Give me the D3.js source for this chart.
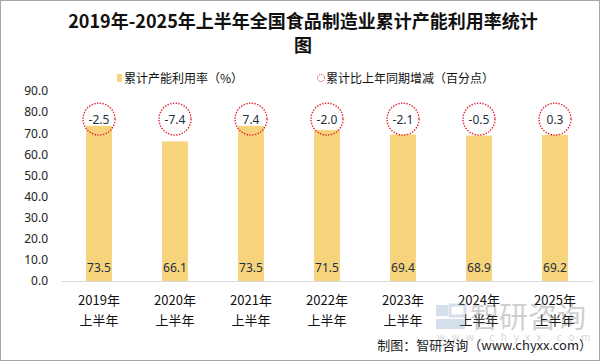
<!DOCTYPE html>
<html>
<head>
<meta charset="utf-8">
<script src="https://cdn.jsdelivr.net/npm/d3@7"></script>
<style>
  body { margin: 0; background: #fff; }
  text { font-family: "Noto Sans CJK SC", "Noto Sans", sans-serif; }
</style>
</head>
<body>
<div id="chart"></div>
<script>
// chart data
const years = ["2019年", "2020年", "2021年", "2022年", "2023年", "2024年", "2025年"];
const rate = [73.5, 66.1, 73.5, 71.5, 69.4, 68.9, 69.2];
const change = [-2.5, -7.4, 7.4, -2.0, -2.1, -0.5, 0.3];
const yTicks = [0, 10, 20, 30, 40, 50, 60, 70, 80, 90];
const circleLevel = 76.7; // where the change markers sit on the value axis

const W = 605, H = 363;
const svg = d3.select("#chart").append("svg")
  .attr("width", W).attr("height", H);

// outer frame
svg.append("rect")
  .attr("x", 0.5).attr("y", 0.5)
  .attr("width", 599).attr("height", 360)
  .attr("fill", "#fff").attr("stroke", "#a6a6a6");

// title
svg.append("text")
  .attr("x", 303).attr("y", 28)
  .attr("text-anchor", "middle")
  .style("font-size", "18px").style("font-weight", "bold").attr("fill", "#111")
  .text("2019年-2025年上半年全国食品制造业累计产能利用率统计");
svg.append("text")
  .attr("x", 303).attr("y", 52)
  .attr("text-anchor", "middle")
  .style("font-size", "18px").style("font-weight", "bold").attr("fill", "#111")
  .text("图");

// scales
const x = d3.scaleBand().domain(years).range([61, 593]).paddingInner(0.66).paddingOuter(0.33);
const y = d3.scaleLinear().domain([0, 90]).range([281, 91]);

// y axis labels
const yAxis = svg.append("g")
  .attr("transform", "translate(48,0)")
  .call(d3.axisLeft(y).tickValues(yTicks).tickSize(0).tickPadding(0).tickFormat(d3.format(".1f")));
yAxis.select(".domain").remove();
yAxis.selectAll("text").style("font-size", "12px").attr("fill", "#222")
  .style("font-family", '"Noto Sans", sans-serif');

// bars
svg.selectAll("rect.bar")
  .data(rate)
  .enter().append("rect")
  .attr("class", "bar")
  .attr("x", (d, i) => x(years[i]))
  .attr("width", x.bandwidth())
  .attr("y", d => y(d))
  .attr("height", d => y(0) - y(d))
  .attr("fill", "#f7d47c");

// x axis
const xAxis = svg.append("g")
  .attr("transform", `translate(0,${y(0)})`)
  .call(d3.axisBottom(x).tickSize(0).tickFormat(""));
xAxis.select(".domain").attr("stroke", "#d9d9d9");
years.forEach(yr => {
  const cx = x(yr) + x.bandwidth() / 2;
  svg.append("text").attr("x", cx).attr("y", 305).attr("text-anchor", "middle")
    .style("font-size", "13px").attr("fill", "#111").text(yr);
  svg.append("text").attr("x", cx).attr("y", 325).attr("text-anchor", "middle")
    .style("font-size", "13px").attr("fill", "#111").text("上半年");
});

// value labels at the bottom of the bars
svg.selectAll("text.val")
  .data(rate)
  .enter().append("text")
  .attr("class", "val")
  .attr("x", (d, i) => x(years[i]) + x.bandwidth() / 2)
  .attr("y", y(0) - 9)
  .attr("text-anchor", "middle")
  .style("font-size", "12px").style("font-family", '"Noto Sans", sans-serif')
  .attr("fill", "#1f3040")
  .text(d => d.toFixed(1));

// change markers
svg.selectAll("circle.chg")
  .data(change)
  .enter().append("circle")
  .attr("class", "chg")
  .attr("cx", (d, i) => x(years[i]) + x.bandwidth() / 2)
  .attr("cy", y(circleLevel))
  .attr("r", 16)
  .attr("fill", "none")
  .attr("stroke", "#e0202e")
  .attr("stroke-width", 1.4)
  .attr("stroke-dasharray", "1.4,1.4");
svg.selectAll("text.chg")
  .data(change)
  .enter().append("text")
  .attr("class", "chg")
  .attr("x", (d, i) => x(years[i]) + x.bandwidth() / 2)
  .attr("y", y(circleLevel) + 4.5)
  .attr("text-anchor", "middle")
  .style("font-size", "12px").style("font-family", '"Noto Sans", sans-serif')
  .attr("fill", "#1f3040")
  .text(d => d.toFixed(1));

// legend
const legend = svg.append("g");
legend.append("rect").attr("x", 117).attr("y", 74).attr("width", 5).attr("height", 8).attr("fill", "#f7d47c");
legend.append("text").attr("x", 124).attr("y", 82.5).style("font-size", "12px").attr("fill", "#111")
  .text("累计产能利用率（%）");
legend.append("circle").attr("cx", 321).attr("cy", 78).attr("r", 3.5)
  .attr("fill", "none").attr("stroke", "#e0202e").attr("stroke-width", 1).attr("stroke-dasharray", "1,1");
legend.append("text").attr("x", 326).attr("y", 82.5).style("font-size", "12px").attr("fill", "#111")
  .text("累计比上年同期增减（百分点）");

// watermark
const wm = svg.append("g").attr("opacity", 0.35);
wm.append("rect").attr("x", 436).attr("y", 305).attr("width", 12).attr("height", 11).attr("fill", "#8aa6c8");
wm.append("rect").attr("x", 450).attr("y", 305).attr("width", 15).attr("height", 11).attr("fill", "none").attr("stroke", "#8aa6c8").attr("stroke-width", 3);
wm.append("rect").attr("x", 436).attr("y", 319).attr("width", 29).attr("height", 10).attr("fill", "#8aa6c8");
wm.append("text").attr("x", 470).attr("y", 328).style("font-size", "29px").attr("fill", "#777")
  .text("智研咨询");
wm.append("text").attr("x", 437).attr("y", 341).style("font-size", "10px").style("letter-spacing", "6.5px").attr("fill", "#888")
  .text("www.chyxx.com");

// source
svg.append("text").attr("x", 592).attr("y", 350).attr("text-anchor", "end")
  .style("font-size", "13px").attr("fill", "#222")
  .text("制图：智研咨询（www.chyxx.com）");
</script>
</body>
</html>
